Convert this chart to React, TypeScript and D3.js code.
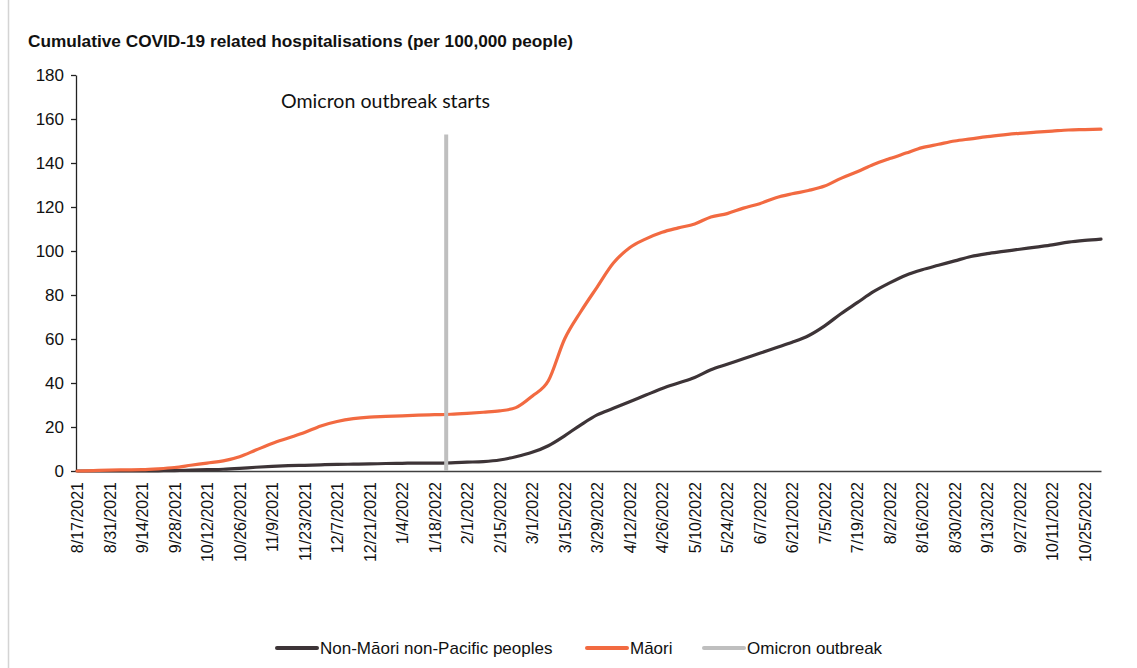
import * as d3 from "d3";
import { useEffect, useRef } from "react";

// weekly readings, first week starts 17 Aug 2021
const firstWeek = "8/17/2021";
const maori = [
  0, 0.2, 0.4, 0.5, 0.6, 1.0, 1.6, 2.6, 3.6, 4.6,
  6.5, 9.5, 12.5, 15, 17.5, 20.5, 22.5, 23.8, 24.5, 24.8,
  25.1, 25.4, 25.6, 25.8, 26.2, 26.7, 27.3, 28.8, 34, 41,
  60, 72.5, 83.6, 94.5, 101.5, 105.5, 108.5, 110.5, 112.3, 115.5,
  117, 119.5, 121.5, 124.2, 126, 127.5, 129.5, 133, 136, 139.3,
  142, 144.5, 147, 148.5, 150, 151, 152, 152.8, 153.5, 154,
  154.5, 155, 155.2, 155.4,
];
const nonMaori = [
  0, 0, 0, 0, 0, 0.1, 0.2, 0.4, 0.6, 0.8,
  1.2, 1.7, 2.1, 2.4, 2.6, 2.8, 3.0, 3.1, 3.2, 3.4,
  3.5, 3.6, 3.6, 3.7, 4.0, 4.3, 5.0, 6.5, 8.5, 11.5,
  16, 21, 25.5, 28.5, 31.5, 34.5, 37.5, 40, 42.5, 46,
  48.5, 51, 53.5, 56, 58.5, 61.5, 66, 71.5, 76.5, 81.5,
  85.5, 89, 91.5, 93.5, 95.5, 97.5, 98.8, 99.8, 100.8, 101.8,
  102.8, 104, 104.8, 105.4,
];
const tickLabels = [
  "8/17/2021", "8/31/2021", "9/14/2021", "9/28/2021", "10/12/2021", "10/26/2021",
  "11/9/2021", "11/23/2021", "12/7/2021", "12/21/2021", "1/4/2022", "1/18/2022",
  "2/1/2022", "2/15/2022", "3/1/2022", "3/15/2022", "3/29/2022", "4/12/2022",
  "4/26/2022", "5/10/2022", "5/24/2022", "6/7/2022", "6/21/2022", "7/5/2022",
  "7/19/2022", "8/2/2022", "8/16/2022", "8/30/2022", "9/13/2022", "9/27/2022",
  "10/11/2022", "10/25/2022",
];
const yTicks = [0, 20, 40, 60, 80, 100, 120, 140, 160, 180];
const omicronDate = "1/23/2022";
const omicronTop = 153;
const lastDate = "11/1/2022";
const seriesNames = ["Non-Māori non-Pacific peoples", "Māori", "Omicron outbreak"];
const seriesColors = ["#3d3437", "#f26a41", "#bfbfbf"];

const W = 1137;
const H = 668;
const font = "'Liberation Sans', Arial, sans-serif";

const App = () => {
  const ref = useRef(null);

  useEffect(() => {
    const svg = d3.select(ref.current);
    svg.selectAll("*").remove();

    const parse = d3.timeParse("%m/%d/%Y");
    const start = parse(firstWeek);
    const weeks = maori.map((_, i) => d3.timeDay.offset(start, i * 7));

    const x = d3.scaleTime().domain([start, parse(lastDate)]).range([77, 1101]);
    const y = d3.scaleLinear().domain([0, 180]).range([471, 75]);

    // frame
    svg.append("line").attr("x1", 8.5).attr("x2", 8.5).attr("y1", 0).attr("y2", H)
      .attr("stroke", "#d4d4d4").attr("stroke-width", 1.5);

    // title
    svg.append("text")
      .attr("x", 28).attr("y", 47)
      .attr("font-family", font).attr("font-weight", "bold").attr("font-size", 16)
      .attr("textLength", 545).attr("lengthAdjust", "spacingAndGlyphs")
      .attr("fill", "#111")
      .text("Cumulative COVID-19 related hospitalisations (per 100,000 people)");

    // y axis
    const gy = svg.append("g").attr("transform", "translate(76,0)")
      .call(d3.axisLeft(y).tickValues(yTicks).tickSize(5).tickSizeOuter(0).tickPadding(7));
    gy.select(".domain").attr("stroke", "#222").attr("stroke-width", 1.3);
    gy.selectAll(".tick line").attr("stroke", "#222").attr("stroke-width", 1.3);
    gy.selectAll("text").attr("font-family", font).attr("font-size", 17).attr("fill", "#111");

    // x axis
    const gx = svg.append("g").attr("transform", "translate(0,471)")
      .call(d3.axisBottom(x)
        .tickValues(tickLabels.map(parse))
        .tickFormat((d, i) => tickLabels[i])
        .tickSize(0).tickSizeOuter(0));
    gx.select(".domain").attr("stroke", "#404040").attr("stroke-width", 1.5);
    gx.selectAll("text")
      .attr("font-family", font).attr("font-size", 16).attr("fill", "#111")
      .attr("transform", "rotate(-90)")
      .attr("x", -11).attr("y", 0).attr("dy", "0.35em")
      .style("text-anchor", "end");

    // lines
    const line = d3.line<number>()
      .x((_, i) => x(weeks[i]))
      .y((d) => y(d))
      .curve(d3.curveMonotoneX);

    [nonMaori, maori].forEach((vals, k) => {
      svg.append("path")
        .datum(vals)
        .attr("d", line)
        .attr("fill", "none")
        .attr("stroke", seriesColors[k])
        .attr("stroke-width", 3.2)
        .attr("stroke-linejoin", "round")
        .attr("stroke-linecap", "round");
    });

    // omicron marker
    const ox = x(parse(omicronDate));
    svg.append("line")
      .attr("x1", ox).attr("x2", ox)
      .attr("y1", y(omicronTop)).attr("y2", y(0))
      .attr("stroke", seriesColors[2]).attr("stroke-width", 4);

    svg.append("text")
      .attr("x", 281).attr("y", 108)
      .attr("font-family", "Lato, 'Open Sans', sans-serif").attr("font-size", 19)
      .attr("textLength", 209).attr("lengthAdjust", "spacingAndGlyphs")
      .attr("fill", "#111")
      .text("Omicron outbreak starts");

    // legend
    const legendX = [277, 587, 704];
    const lg = svg.append("g").attr("transform", "translate(0,648)");
    seriesNames.forEach((name, k) => {
      lg.append("line")
        .attr("x1", legendX[k]).attr("x2", legendX[k] + 40)
        .attr("stroke", seriesColors[k]).attr("stroke-width", 4).attr("stroke-linecap", "round");
      lg.append("text")
        .attr("x", legendX[k] + 43).attr("dy", "0.35em")
        .attr("font-family", font).attr("font-size", 17).attr("fill", "#111")
        .text(name);
    });
  }, []);

  return (
    <svg ref={ref} width={W} height={H}
      style={{ position: "absolute", left: 0, top: 0, background: "#fff" }} />
  );
};

export default App;
